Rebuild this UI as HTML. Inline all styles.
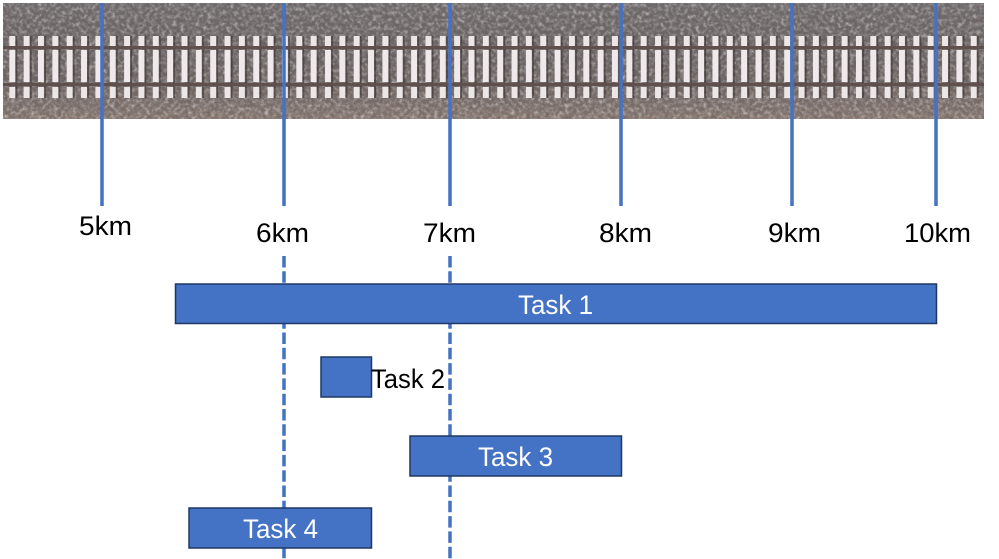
<!DOCTYPE html>
<html>
<head>
<meta charset="utf-8">
<title>Track work schedule</title>
<style>
html,body{margin:0;padding:0;background:#fff;width:999px;height:559px;overflow:hidden}
svg{display:block}
text{font-family:"Liberation Sans",sans-serif;font-size:26.5px}
</style>
</head>
<body>
<svg width="999" height="559" viewBox="0 0 999 559" xmlns="http://www.w3.org/2000/svg">
<defs>
<linearGradient id="bal" x1="0" y1="0" x2="0" y2="1">
<stop offset="0" stop-color="#6f6a6c"/>
<stop offset=".3" stop-color="#6a6364"/>
<stop offset=".7" stop-color="#6c6362"/>
<stop offset="1" stop-color="#8a7870"/>
</linearGradient>
<filter id="noise" x="0" y="0" width="100%" height="100%">
<feTurbulence type="fractalNoise" baseFrequency="0.26" numOctaves="2" seed="7"/>
<feColorMatrix type="matrix" values="0 0 0 0 .72  0 0 0 0 .69  0 0 0 0 .68  2.4 0 0 0 -.95"/>
</filter>
<filter id="noise2" x="0" y="0" width="100%" height="100%">
<feTurbulence type="fractalNoise" baseFrequency="0.26" numOctaves="2" seed="21"/>
<feColorMatrix type="matrix" values="0 0 0 0 .16  0 0 0 0 .14  0 0 0 0 .14  2.4 0 0 0 -.95"/>
</filter>
<pattern id="ties" x="9.3" y="0" width="14.35" height="119" patternUnits="userSpaceOnUse">
<rect x="6" y="36" width="2" height="62" fill="#2f2827" opacity=".55"/>
<rect x="0" y="36" width="6" height="10" fill="#ece6e6"/>
<rect x="0" y="50" width="6" height="32" fill="#efe9eb"/>
<rect x="0" y="87" width="6" height="11" fill="#ece6e6"/>
</pattern>
</defs>

<rect x="3" y="3" width="981" height="116" fill="url(#bal)"/>
<rect x="3" y="3" width="981" height="116" filter="url(#noise)" opacity=".6"/>
<rect x="3" y="3" width="981" height="116" filter="url(#noise2)" opacity=".85"/>
<rect x="3" y="34" width="981" height="66" fill="url(#ties)"/>
<rect x="3" y="46" width="981" height="3" fill="#5f504d"/>
<rect x="3" y="83" width="981" height="3" fill="#5f504d"/>

<g stroke="#4472c4" stroke-width="3.5" fill="none">
<line x1="102" y1="3" x2="102" y2="206"/>
<line x1="284" y1="3" x2="284" y2="206"/>
<line x1="450" y1="3" x2="450" y2="206"/>
<line x1="621" y1="3" x2="621" y2="206"/>
<line x1="792" y1="3" x2="792" y2="206"/>
<line x1="936" y1="3" x2="936" y2="206"/>
<line x1="284" y1="256" x2="284" y2="559" stroke-dasharray="11.5 3.8"/>
<line x1="450" y1="256" x2="450" y2="559" stroke-dasharray="11.5 3.8"/>
</g>

<g fill="#000">
<text x="79" y="235" textLength="53" lengthAdjust="spacingAndGlyphs">5km</text>
<text x="256" y="242" textLength="53" lengthAdjust="spacingAndGlyphs">6km</text>
<text x="423" y="242" textLength="53" lengthAdjust="spacingAndGlyphs">7km</text>
<text x="599" y="242" textLength="53" lengthAdjust="spacingAndGlyphs">8km</text>
<text x="768" y="242" textLength="53" lengthAdjust="spacingAndGlyphs">9km</text>
<text x="904" y="242" textLength="67" lengthAdjust="spacingAndGlyphs">10km</text>
</g>

<g fill="#4472c4" stroke="#1f3864" stroke-width="1.5">
<rect x="175.5" y="284" width="761" height="39.5"/>
<rect x="321" y="357" width="50.5" height="40"/>
<rect x="410" y="436" width="211.5" height="40"/>
<rect x="189" y="508" width="182.5" height="40"/>
</g>

<text x="518" y="314" fill="#fff" textLength="75" lengthAdjust="spacingAndGlyphs">Task 1</text>
<text x="371" y="388" fill="#000" textLength="74" lengthAdjust="spacingAndGlyphs">Task 2</text>
<text x="478" y="466" fill="#fff" textLength="75" lengthAdjust="spacingAndGlyphs">Task 3</text>
<text x="243" y="538" fill="#fff" textLength="75" lengthAdjust="spacingAndGlyphs">Task 4</text>
</svg>
</body>
</html>
